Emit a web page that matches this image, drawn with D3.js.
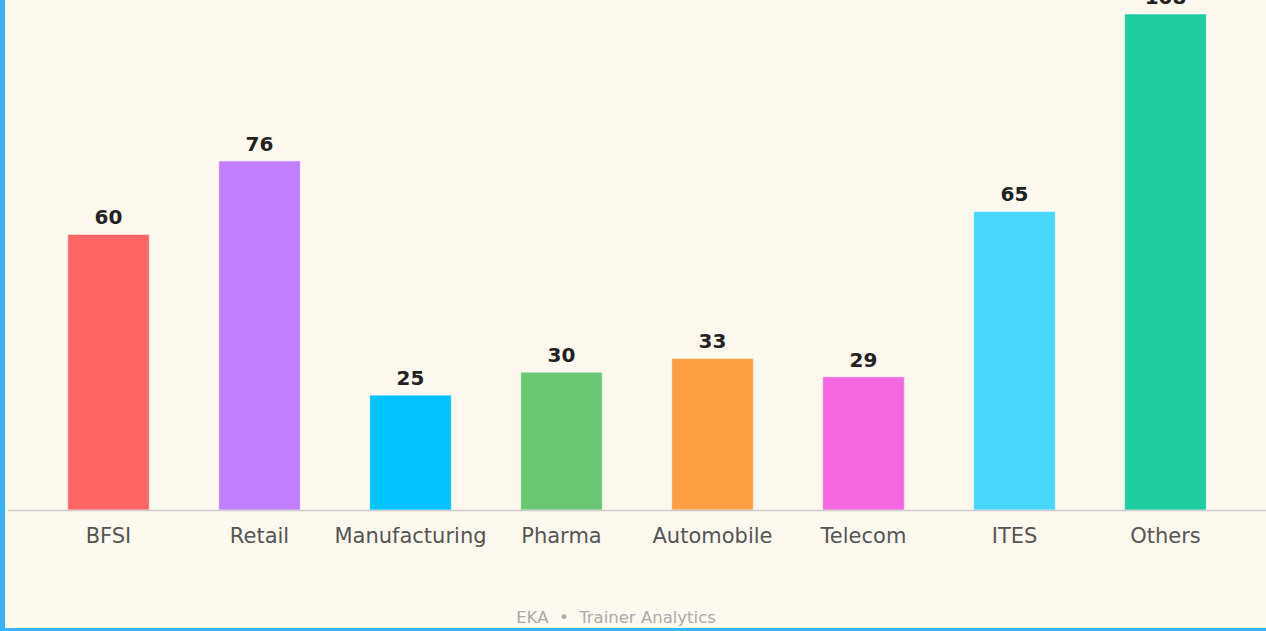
<!DOCTYPE html>
<head>
  <meta charset="utf-8">
  <title>Trainer Analytics</title>
  <script src="https://d3js.org/d3.v7.min.js"></script>
  <style>
    html, body {
      margin: 0;
      padding: 0;
      background: #fef9ef;
    }
    #chart-svg {
      width: 1266px;
      height: 631px;
      display: block;
    }
  </style>
</head>

<body>
  <svg id="chart-svg"></svg>
  <script>
    var width = 1266;
    var height = 631;

    // data
    var sectors = ["BFSI", "Retail", "Manufacturing", "Pharma", "Automobile", "Telecom", "ITES", "Others"];
    var counts = [60, 76, 25, 30, 33, 29, 65, 108];
    var colors = ["#ff6666", "#c17fff", "#00c3ff", "#6ac874", "#ff9f43", "#f368e0", "#48d6fb", "#1dcc9f"];
    var footer = "EKA  \u2022  Trainer Analytics";

    var svg = d3.select("#chart-svg")
      .attr("viewBox", "0 0 " + width + " " + height);

    // card background + blue border (left and bottom visible)
    svg.append("rect").attr("x", 0).attr("y", 0).attr("width", width).attr("height", height).attr("fill", "#fef9ef");
    svg.append("rect").attr("x", 0).attr("y", 0).attr("width", 5).attr("height", height).attr("fill", "#38b4fc");
    svg.append("rect").attr("x", 0).attr("y", height - 3).attr("width", width).attr("height", 3).attr("fill", "#38b4fc");

    var x = d3.scaleBand()
      .domain(sectors)
      .range([33, 1241])
      .paddingInner(0.46)
      .paddingOuter(0.23);

    var y = d3.scaleLinear()
      .domain([0, d3.max(counts)])
      .range([510, 14]);

    var data = sectors.map(function(s, i) {
      return {name: s, value: counts[i], color: colors[i]};
    });

    // bars
    svg.selectAll(".bar")
      .data(data)
      .enter()
      .append("rect")
      .attr("class", "bar")
      .attr("x", function(d) { return x(d.name); })
      .attr("y", function(d) { return y(d.value); })
      .attr("width", x.bandwidth())
      .attr("height", function(d) { return y(0) - y(d.value); })
      .attr("fill", function(d) { return d.color; })
      .attr("stroke", "#ffffff")
      .attr("stroke-opacity", 0.5)
      .attr("stroke-width", 1);

    // baseline
    svg.append("line")
      .attr("x1", 8).attr("x2", width)
      .attr("y1", y(0) + 0.5).attr("y2", y(0) + 0.5)
      .attr("stroke", "#cccccc")
      .attr("stroke-width", 1.5);

    // value labels
    svg.selectAll(".val")
      .data(data)
      .enter()
      .append("text")
      .attr("class", "val")
      .attr("x", function(d) { return x(d.name) + x.bandwidth() / 2; })
      .attr("y", function(d) { return y(d.value) - 10; })
      .attr("text-anchor", "middle")
      .style("font-family", "DejaVu Sans")
      .style("font-weight", "bold")
      .style("font-size", "20px")
      .style("fill", "#222222")
      .text(function(d) { return d.value; });

    // category labels
    svg.selectAll(".cat")
      .data(data)
      .enter()
      .append("text")
      .attr("class", "cat")
      .attr("x", function(d) { return x(d.name) + x.bandwidth() / 2; })
      .attr("y", 543)
      .attr("text-anchor", "middle")
      .style("font-family", "DejaVu Sans")
      .style("font-size", "21px")
      .style("fill", "#555555")
      .text(function(d) { return d.name; });

    // footer
    svg.append("text")
      .attr("x", 616)
      .attr("y", 623)
      .attr("text-anchor", "middle")
      .attr("xml:space", "preserve")
      .style("white-space", "pre")
      .style("font-family", "DejaVu Sans")
      .style("font-size", "16.5px")
      .style("fill", "#aaaaaa")
      .text(footer);
  </script>
</body>
</html>
